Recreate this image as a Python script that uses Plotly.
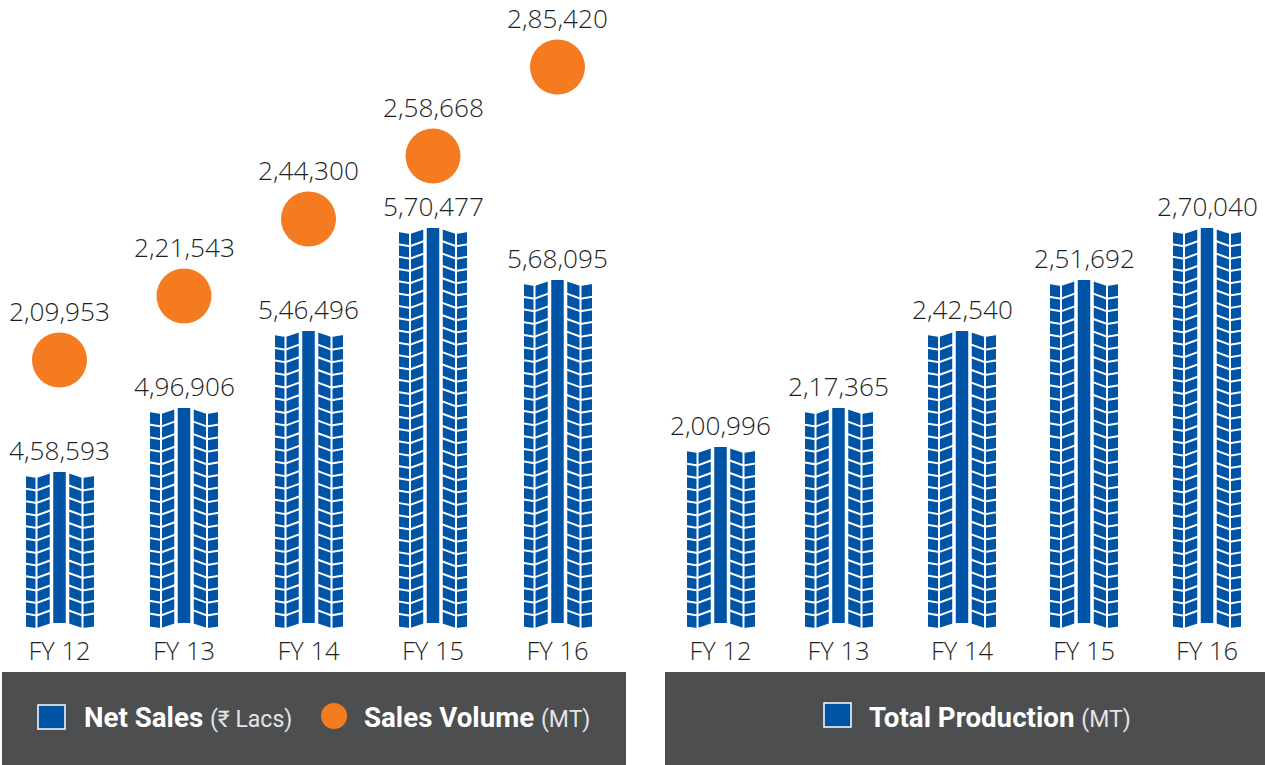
import plotly.graph_objects as go

# ---- data ----
years = ["FY 12", "FY 13", "FY 14", "FY 15", "FY 16"]
net_sales_labels = ["4,58,593", "4,96,906", "5,46,496", "5,70,477", "5,68,095"]
sales_volume_labels = ["2,09,953", "2,21,543", "2,44,300", "2,58,668", "2,85,420"]
production_labels = ["2,00,996", "2,17,365", "2,42,540", "2,51,692", "2,70,040"]
# drawn heights (the pictogram is not to a linear scale)
net_sales_heights = [156, 220, 297, 400, 348]
sales_volume_heights = [268, 332, 409, 472, 561]
production_heights = [181, 220, 297, 348, 400]

# ---- layout ----
W, H = 1265, 765
BLUE, ORANGE, DARK, TEXT = "#0054a6", "#f47b20", "#4d4e50", "#1f1f1f"
FONT = "Open Sans"
LEGEND_FONT = "Roboto"
left_slots = [59.5, 184, 308.5, 433, 557.5]
right_slots = [55.5, 173.5, 297, 419, 542]
LEFT_W, RIGHT_X0, RIGHT_W = 626, 665, 600
BASE_PX = 628
BAR_W = 68


def tread(slots, heights, xaxis, yaxis):
    """White cuts that turn a plain bar into a tyre tread."""
    traces = []
    lx, ly = [], []   # thin cuts
    gx, gy = [], []   # wide grooves either side of the centre rib
    for c, h in zip(slots, heights):
        for s in (-1, 1):
            gx += [c + s * 8, c + s * 8, None]
            gy += [0, h + 1, None]
            lx += [c + s * 23, c + s * 23, None]
            ly += [0, h + 1, None]
            n = round((h - 6) / 12.5)
            pitch = (h - 6) / n
            for k in range(1, n):
                y = k * pitch
                lx += [c + s * 35, c + s * 23, c + s * 8, None]
                ly += [y + 2, y, y + 5.5, None]
    for xs, ys, w in ((lx, ly, 2), (gx, gy, 3.5)):
        traces.append(go.Scatter(x=xs, y=ys, mode="lines", line=dict(color="white", width=w),
                                 xaxis=xaxis, yaxis=yaxis, hoverinfo="skip", showlegend=False))
    # white trims: chevron top and bottom of the shoulders
    px, py = [], []
    for c, h in zip(slots, heights):
        for s in (-1, 1):
            px += [c + s * 36, c + s * 35, c + s * 23, c + s * 8, c + s * 8, c + s * 36, c + s * 36, None]
            py += [h + 3, h - 4, h - 6, h - 1, h + 3, h + 3, h + 3, None]
            px += [c + s * 36, c + s * 35, c + s * 23, c + s * 8, c + s * 8, c + s * 36, None]
            py += [-1, 1.5, 0, 5, -1, -1, None]
        px += [c - 8, c + 8, c + 8, c - 8, c - 8, None]
        py += [-1, -1, 5, 5, -1, None]
    traces.append(go.Scatter(x=px, y=py, mode="lines", fill="toself", fillcolor="white",
                             line=dict(color="white", width=0), xaxis=xaxis, yaxis=yaxis,
                             hoverinfo="skip", showlegend=False))
    return traces


fig = go.Figure()
fig.add_trace(go.Bar(x=left_slots, y=net_sales_heights, width=BAR_W, marker=dict(color=BLUE, line_width=0),
                     customdata=net_sales_labels, hovertemplate="Net Sales: %{customdata}<extra></extra>",
                     xaxis="x", yaxis="y", showlegend=False))
fig.add_trace(go.Bar(x=right_slots, y=production_heights, width=BAR_W, marker=dict(color=BLUE, line_width=0),
                     customdata=production_labels, hovertemplate="Total Production: %{customdata}<extra></extra>",
                     xaxis="x2", yaxis="y2", showlegend=False))
for t in tread(left_slots, net_sales_heights, "x", "y") + tread(right_slots, production_heights, "x2", "y2"):
    fig.add_trace(t)
fig.add_trace(go.Scatter(x=left_slots, y=sales_volume_heights, mode="markers",
                         marker=dict(color=ORANGE, size=55, line_width=0),
                         customdata=sales_volume_labels, hovertemplate="Sales Volume: %{customdata}<extra></extra>",
                         xaxis="x", yaxis="y", cliponaxis=False, showlegend=False))

ann = []
label_font = dict(family=FONT, size=26.2, color=TEXT, weight=300)
for x, h, t in zip(left_slots, net_sales_heights, net_sales_labels):
    ann.append(dict(x=x, y=h, xref="x", yref="y", text=t, showarrow=False, yanchor="bottom", yshift=2, font=label_font))
for x, h, t in zip(right_slots, production_heights, production_labels):
    ann.append(dict(x=x, y=h, xref="x2", yref="y2", text=t, showarrow=False, yanchor="bottom", yshift=2, font=label_font))
for x, h, t in zip(left_slots, sales_volume_heights, sales_volume_labels):
    ann.append(dict(x=x, y=h, xref="x", yref="y", text=t, showarrow=False, yanchor="bottom", yshift=29, font=label_font))


def legend_text(px, py, main, unit):
    return dict(x=px / W, y=1 - py / H, xref="paper", yref="paper", xanchor="left", yanchor="middle", showarrow=False,
                text=f"<b>{main}</b> <span style='font-size:23px;color:#e4e4e4'>{unit}</span>",
                font=dict(family=LEGEND_FONT, size=27.7, color="white"))


ann += [legend_text(82, 717, "Net Sales", "(₹ Lacs)"),
        legend_text(362, 717, "Sales Volume", "(MT)"),
        legend_text(867, 717, "Total Production", "(MT)")]


def rect(x0, y0, x1, y1, fill, line=None, kind="rect"):
    return dict(type=kind, xref="paper", yref="paper", x0=x0 / W, x1=x1 / W, y0=1 - y0 / H, y1=1 - y1 / H,
                fillcolor=fill, line=dict(color=line or fill, width=1.5 if line else 0))


shapes = [rect(2, 672, 626, 765, DARK), rect(665, 672, 1265, 765, DARK),
          rect(38, 705, 65, 729, BLUE, "white"), rect(824, 703, 851, 727, BLUE, "white"),
          rect(321, 703, 347, 729, ORANGE, kind="circle")]

tick_font = dict(family=FONT, size=25.5, color=TEXT, weight=300)
y_dom = [(H - BASE_PX) / H, 1]
fig.update_layout(
    width=W, height=H, margin=dict(l=0, r=0, t=0, b=0), paper_bgcolor="white", plot_bgcolor="white",
    bargap=0, showlegend=False, annotations=ann, shapes=shapes,
    xaxis=dict(domain=[0, LEFT_W / W], range=[0, LEFT_W], tickmode="array", tickvals=left_slots, ticktext=years,
               tickfont=tick_font, showgrid=False, zeroline=False, showline=False, ticks="",
               ticklabelstandoff=5, anchor="y"),
    xaxis2=dict(domain=[RIGHT_X0 / W, (RIGHT_X0 + RIGHT_W) / W], range=[0, RIGHT_W], tickmode="array",
                tickvals=right_slots, ticktext=years, tickfont=tick_font, showgrid=False, zeroline=False,
                showline=False, ticks="", ticklabelstandoff=5, anchor="y2"),
    yaxis=dict(domain=y_dom, range=[0, BASE_PX], visible=False),
    yaxis2=dict(domain=y_dom, range=[0, BASE_PX], visible=False, anchor="x2"),
)
fig.write_html("out.html", config={"displayModeBar": False},
               post_script="document.body.style.margin='0';document.body.style.overflow='hidden';")
